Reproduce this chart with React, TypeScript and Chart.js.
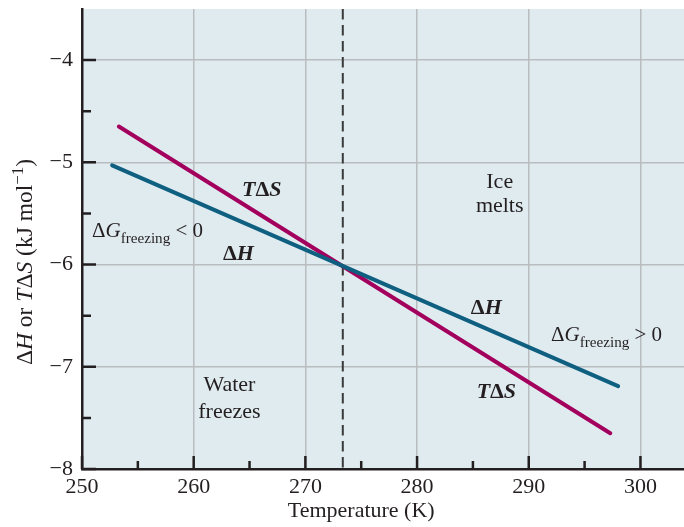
import React, { useEffect, useRef } from "react";
import { Chart, registerables } from "chart.js";

Chart.register(...registerables);

const FONT = '"Liberation Serif", "Times New Roman", serif';
const INK = "#231f20";
const GRID = "#b9bdc0";
const BG = "#e0ebf0";
const TDS_COLOR = "#a3005e";
const DH_COLOR = "#0e5f80";

// Axis ticks
const xTicks = [250, 260, 270, 280, 290, 300];
const xMinorTicks = [255, 265, 275, 285, 295];
const yTicks = [-8, -7, -6, -5, -4];
const yMinorTicks = [-7.5, -6.5, -5.5, -4.5];

// Series (temperature in K, energy in kJ/mol)
const tdsTemps = [253.3, 297.3];
const tdsValues = [-4.65, -7.65];
const dhTemps = [252.7, 298.0];
const dhValues = [-5.03, -7.19];
const meltingPoint = 273.35;
const dashValues = [-3.5, -8];

type Seg = { t: string; it?: boolean; sub?: boolean; sup?: boolean };
type Ann = { x: number; y: number; align: "left" | "center"; size: number; bold?: boolean; segs: Seg[] };

const annotations: Ann[] = [
  { x: 266.1, y: -5.33, align: "center", size: 22, bold: true, segs: [{ t: "T", it: true }, { t: "Δ" }, { t: "S", it: true }] },
  { x: 264.0, y: -5.96, align: "center", size: 22, bold: true, segs: [{ t: "Δ" }, { t: "H", it: true }] },
  { x: 250.9, y: -5.73, align: "left", size: 21, segs: [{ t: "Δ" }, { t: "G", it: true }, { t: "freezing", sub: true }, { t: " < 0" }] },
  { x: 287.4, y: -5.25, align: "center", size: 22, segs: [{ t: "Ice" }] },
  { x: 287.4, y: -5.49, align: "center", size: 22, segs: [{ t: "melts" }] },
  { x: 286.2, y: -6.48, align: "center", size: 22, bold: true, segs: [{ t: "Δ" }, { t: "H", it: true }] },
  { x: 292.0, y: -6.75, align: "left", size: 21, segs: [{ t: "Δ" }, { t: "G", it: true }, { t: "freezing", sub: true }, { t: " > 0" }] },
  { x: 287.1, y: -7.31, align: "center", size: 22, bold: true, segs: [{ t: "T", it: true }, { t: "Δ" }, { t: "S", it: true }] },
  { x: 263.2, y: -7.24, align: "center", size: 22, segs: [{ t: "Water" }] },
  { x: 263.2, y: -7.50, align: "center", size: 22, segs: [{ t: "freezes" }] },
];

const yTitle: Seg[] = [
  { t: "Δ" }, { t: "H", it: true }, { t: " or " }, { t: "T", it: true }, { t: "Δ" }, { t: "S", it: true },
  { t: " (kJ mol" }, { t: "−1", sup: true }, { t: ")" },
];
const xTitle: Seg[] = [{ t: "Temperature (K)" }];

function layoutRich(ctx: CanvasRenderingContext2D, segs: Seg[], size: number, bold?: boolean) {
  return segs.map((s) => {
    const sz = s.sub || s.sup ? size * 0.72 : size;
    const font = `${s.it ? "italic " : ""}${bold ? "bold " : ""}${sz}px ${FONT}`;
    ctx.font = font;
    const w = ctx.measureText(s.t).width;
    const dy = s.sub ? size * 0.27 : s.sup ? -size * 0.38 : 0;
    return { t: s.t, font, w, dy };
  });
}

function drawRich(ctx: CanvasRenderingContext2D, segs: Seg[], x: number, y: number, align: string, size: number, bold?: boolean) {
  const parts = layoutRich(ctx, segs, size, bold);
  const total = parts.reduce((a, p) => a + p.w, 0);
  let cx = align === "center" ? x - total / 2 : align === "right" ? x - total : x;
  ctx.textAlign = "left";
  ctx.textBaseline = "alphabetic";
  ctx.fillStyle = INK;
  for (const p of parts) {
    ctx.font = p.font;
    ctx.fillText(p.t, cx, y + p.dy);
    cx += p.w;
  }
}

const decorPlugin = {
  id: "decor",
  beforeDraw(chart: any) {
    const { ctx, chartArea } = chart;
    ctx.save();
    ctx.fillStyle = BG;
    ctx.fillRect(chartArea.left, chartArea.top, chartArea.right - chartArea.left, chartArea.bottom - chartArea.top);
    ctx.restore();
  },
  afterDatasetsDraw(chart: any) {
    const { ctx } = chart;
    const xs = chart.scales.x;
    const ys = chart.scales.y;
    ctx.save();
    for (const a of annotations) {
      drawRich(ctx, a.segs, xs.getPixelForValue(a.x), ys.getPixelForValue(a.y), a.align, a.size, a.bold);
    }
    ctx.restore();
  },
  afterDraw(chart: any) {
    const { ctx, chartArea } = chart;
    const xs = chart.scales.x;
    const ys = chart.scales.y;
    ctx.save();
    ctx.strokeStyle = INK;
    ctx.lineWidth = 2.5;
    ctx.beginPath();
    for (const v of xTicks) {
      const px = xs.getPixelForValue(v);
      ctx.moveTo(px, chartArea.bottom);
      ctx.lineTo(px, chartArea.bottom - 13);
    }
    for (const v of xMinorTicks) {
      const px = xs.getPixelForValue(v);
      ctx.moveTo(px, chartArea.bottom);
      ctx.lineTo(px, chartArea.bottom - 8);
    }
    for (const v of yTicks) {
      const py = ys.getPixelForValue(v);
      ctx.moveTo(chartArea.left, py);
      ctx.lineTo(chartArea.left + 14, py);
    }
    for (const v of yMinorTicks) {
      const py = ys.getPixelForValue(v);
      ctx.moveTo(chartArea.left, py);
      ctx.lineTo(chartArea.left + 9, py);
    }
    ctx.stroke();

    // X title centred on 250–300 span
    const xc = (xs.getPixelForValue(250) + xs.getPixelForValue(300)) / 2;
    drawRich(ctx, xTitle, xc, 517, "center", 22);

    // Y title rotated
    ctx.translate(32, 262);
    ctx.rotate(-Math.PI / 2);
    drawRich(ctx, yTitle, 0, 0, "center", 23.5);
    ctx.restore();
  },
};

export default function App() {
  const ref = useRef<HTMLCanvasElement | null>(null);
  useEffect(() => {
    if (!ref.current) return;
    const chart = new Chart(ref.current, {
      type: "scatter",
      data: {
        datasets: [
          {
            label: "ΔH",
            data: dhTemps.map((t, i) => ({ x: t, y: dhValues[i] })),
            showLine: true,
            borderColor: DH_COLOR,
            borderWidth: 4,
            borderCapStyle: "round",
            pointRadius: 0,
          },
          {
            label: "TΔS",
            data: tdsTemps.map((t, i) => ({ x: t, y: tdsValues[i] })),
            showLine: true,
            borderColor: TDS_COLOR,
            borderWidth: 4,
            borderCapStyle: "round",
            pointRadius: 0,
          },
          {
            label: "Melting point",
            data: dashValues.map((v) => ({ x: meltingPoint, y: v })),
            showLine: true,
            borderColor: "#3a3a3a",
            borderWidth: 2,
            borderDash: [10.5, 5.5],
            pointRadius: 0,
          },
        ],
      },
      options: {
        animation: false,
        responsive: false,
        devicePixelRatio: 1,
        layout: { padding: { top: 9, right: 0, left: 0, bottom: 0 } },
        plugins: { legend: { display: false }, tooltip: { enabled: false } },
        scales: {
          x: {
            type: "linear",
            min: 250,
            max: 303.9,
            afterBuildTicks: (s: any) => {
              s.ticks = xTicks.map((v) => ({ value: v }));
            },
            afterFit: (s: any) => {
              s.height = 58;
              s.paddingLeft = 0;
              s.paddingRight = 0;
            },
            grid: { color: GRID, lineWidth: 1.5, drawTicks: false },
            border: { display: true, color: INK, width: 2.5 },
            ticks: {
              padding: 5,
              autoSkip: false,
              maxRotation: 0,
              color: INK,
              font: { family: FONT, size: 22 },
              callback: (v: any) => String(v),
            },
          },
          y: {
            type: "linear",
            min: -8,
            max: -3.5,
            afterBuildTicks: (s: any) => {
              s.ticks = yTicks.map((v) => ({ value: v }));
            },
            afterFit: (s: any) => {
              s.width = 82;
              s.paddingTop = 0;
              s.paddingBottom = 0;
            },
            grid: { color: GRID, lineWidth: 1.5, drawTicks: false },
            border: { display: true, color: INK, width: 2.5 },
            ticks: {
              padding: 9,
              color: INK,
              font: { family: FONT, size: 22 },
              callback: (v: any) => (v < 0 ? "−" + Math.abs(v) : String(v)),
            },
          },
        },
      },
      plugins: [decorPlugin],
    } as any);
    return () => chart.destroy();
  }, []);

  return (
    <div style={{ position: "fixed", left: 0, top: 0, width: 684, height: 527, background: "#fff" }}>
      <canvas ref={ref} width={684} height={527} style={{ display: "block", width: 684, height: 527 }} />
    </div>
  );
}
